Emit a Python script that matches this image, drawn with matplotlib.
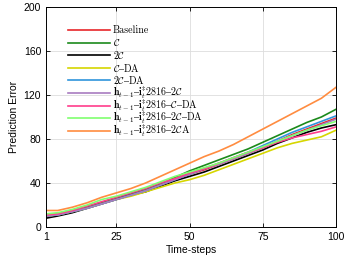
import matplotlib
matplotlib.use("Agg")
import matplotlib.pyplot as plt
from matplotlib.lines import Line2D

plt.rcParams["mathtext.fontset"] = "cm"
plt.rcParams["font.family"] = ["Liberation Sans", "DejaVu Sans"]

steps = [1, 5, 10, 15, 20, 25, 30, 35, 40, 45, 50, 55, 60, 65, 70, 75, 80, 85, 90, 95, 100]

baseline = [10, 11, 14, 18, 22, 26, 30, 34, 39, 43, 48, 52, 57, 62, 67, 72, 78, 84, 89, 94, 99]
c_single = [11, 12, 15, 18, 22, 26, 30, 34, 39, 45, 51, 56, 61, 66, 71, 77, 83, 89, 95, 100, 107]
c_double = [8, 10, 13, 17, 21, 25, 29, 32, 37, 42, 46, 50, 55, 60, 65, 70, 76, 81, 86, 90, 93]
c_da = [10, 11, 14, 17, 21, 25, 28, 32, 36, 40, 43, 47, 52, 57, 62, 67, 72, 76, 79, 82, 88]
c2_da = [10, 11, 14, 17, 21, 25, 29, 33, 38, 43, 48, 53, 58, 63, 68, 74, 80, 86, 91, 96, 101]
h_2c = [10, 11, 14, 17, 21, 25, 29, 33, 38, 43, 48, 53, 57, 62, 67, 72, 78, 83, 88, 93, 98]
h_c_da = [11, 12, 15, 19, 23, 27, 31, 35, 40, 44, 49, 53, 58, 63, 68, 72, 77, 81, 84, 87, 91]
h_2c_da = [12, 13, 16, 20, 25, 28, 32, 36, 41, 46, 50, 54, 58, 63, 68, 73, 78, 83, 88, 92, 96]
h_2ca = [15, 15, 18, 22, 27, 31, 35, 40, 46, 52, 58, 64, 69, 75, 82, 89, 96, 103, 110, 117, 127]

D = r"$–$"
H = r"$\mathbf{h}_{t-1}$" + D + r"$\mathbf{i}_t^{\ddagger}$2816" + D
labels = ["Baseline", r"$\mathcal{C}$", r"2$\mathcal{C}$", r"$\mathcal{C}$" + D + "DA",
          r"2$\mathcal{C}$" + D + "DA", H + r"2$\mathcal{C}$", H + r"$\mathcal{C}$" + D + "DA",
          H + r"2$\mathcal{C}$" + D + "DA", H + r"2$\mathcal{C}$A"]
series = [baseline, c_single, c_double, c_da, c2_da, h_2c, h_c_da, h_2c_da, h_2ca]
colors = ["#e8262a", "#1b8a1b", "#000000", "#d6d600", "#2f95dc",
          "#a87cc0", "#ff3d8b", "#80ff70", "#ff8c40"]

W, Hpx = 347, 263
fig = plt.figure(figsize=(3.47, 2.63), dpi=100)
ax = fig.add_axes([46 / W, 36 / Hpx, 290 / W, 220 / Hpx])

for ys, c in zip(series, colors):
    ax.plot(steps, ys, color=c, linewidth=1.2)

ax.set_xlim(1, 100)
ax.set_ylim(0, 200)
ax.set_xticks([1, 25, 50, 75, 100])
ax.set_yticks(range(0, 201, 40))
ax.tick_params(direction="in", top=True, right=True, labelsize=7.5, length=3, width=0.6)
ax.grid(color="#dddddd", linewidth=0.6)
for s in ax.spines.values():
    s.set_linewidth(0.7)
ax.set_xlabel("Time-steps", fontsize=7.5, labelpad=2)
ax.set_ylabel("Prediction Error", fontsize=7.5, labelpad=3)

# legend drawn by hand so rows keep an even spacing like the LaTeX original
for i, (c, lab) in enumerate(zip(colors, labels)):
    yy = 1 - (30 + 12.6 * i) / Hpx
    fig.add_artist(Line2D([68 / W, 110 / W], [yy, yy], color=c, linewidth=1.2))
    fig.text(113 / W, yy, lab, va="center", ha="left",
             family=["cmr10", "DejaVu Serif"], fontsize=7.2)

fig.savefig("out.png", dpi=100)
